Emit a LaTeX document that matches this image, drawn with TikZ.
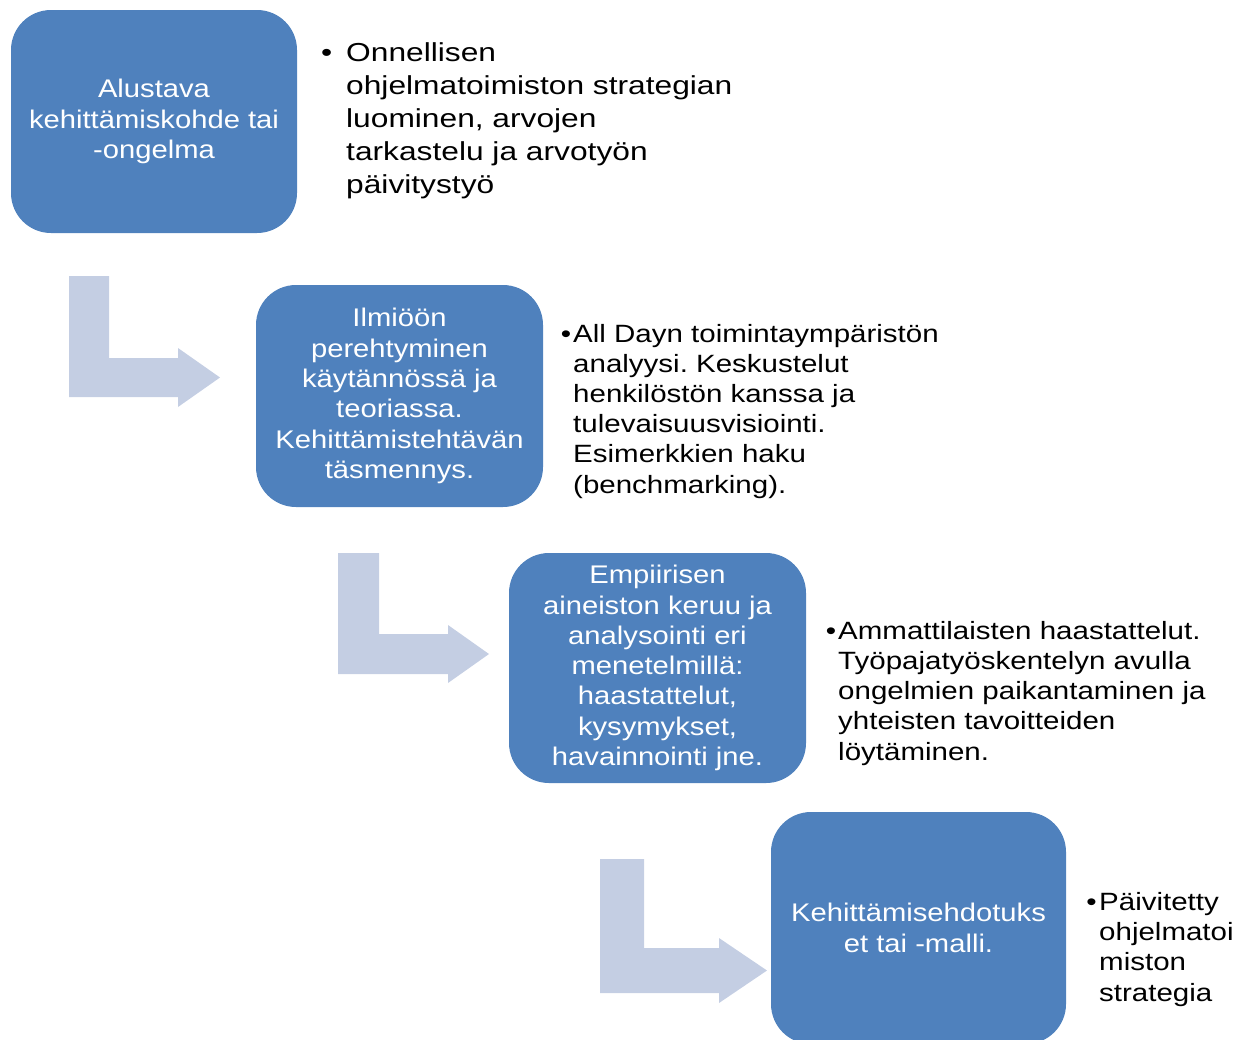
\documentclass[tikz,border=0pt]{standalone}
\usepackage{fontspec}
\setmainfont{Liberation Sans}
\newfontfamily\boxfont[FakeStretch=1.145]{Liberation Sans}
\newfontfamily\notefont[FakeStretch=1.18]{Liberation Sans}
\newfontfamily\leadfont[FakeStretch=1.22]{Liberation Sans}
\frenchspacing
\definecolor{stepblue}{HTML}{4F81BD}
\definecolor{bendblue}{HTML}{C4CEE3}
\tikzset{
  % a tall strut on the first line lowers the centred text a little
  stepbox/.style={fill=stepblue, draw=none, rounded corners=40pt, text=white,
    align=center, inner sep=0pt,
    font=\boxfont\fontsize{25.5pt}{30.3pt}\selectfont,
    execute at begin node={\rule{0pt}{22.8pt}}},
  % notes are placed by the baseline of their last line
  note/.style={anchor=base west, align=left, inner sep=0pt, text=black,
    font=\notefont\fontsize{25pt}{30.2pt}\selectfont},
  leadnote/.style={note, font=\leadfont\fontsize{26pt}{33pt}\selectfont},
  bentarrow/.style={fill=bendblue, draw=none}
}
\begin{document}
\begin{tikzpicture}[x=1pt, y=-1pt]
  \useasboundingbox (0,0) rectangle (1249,1039);
  \clip (0,0) rectangle (1249,1039);

  % process steps
  \node[stepbox, minimum width=286pt, minimum height=223pt] (s1) at (154,121.5)
    {Alustava\\kehittämiskohde tai\\-ongelma};
  \node[stepbox, minimum width=287pt, minimum height=222pt] (s2) at (399.5,396)
    {Ilmiöön\\perehtyminen\\käytännössä ja\\teoriassa.\\Kehittämistehtävän\\täsmennys.};
  \node[stepbox, minimum width=297pt, minimum height=230pt] (s3) at (657.5,668)
    {Empiirisen\\aineiston keruu ja\\analysointi eri\\menetelmillä:\\haastattelut,\\kysymykset,\\havainnointi jne.};
  \node[stepbox, minimum width=295pt, minimum height=232pt] (s4) at (918.5,928)
    {Kehittämisehdotuks\\et tai -malli.};

  % notes beside each step
  \node[leadnote] (n1) at (346,193)
    {\llap{•\hspace{14pt}}Onnellisen\\ohjelmatoimiston strategian\\luominen, arvojen\\tarkastelu ja arvotyön\\päivitystyö};
  \node[note] (n2) at (573,493)
    {\llap{•\hspace{2pt}}All Dayn toimintaympäristön\\analyysi. Keskustelut\\henkilöstön kanssa ja\\tulevaisuusvisiointi.\\Esimerkkien haku\\(benchmarking).};
  \node[note] (n3) at (838,760)
    {\llap{•\hspace{2pt}}Ammattilaisten haastattelut.\\Työpajatyöskentelyn avulla\\ongelmien paikantaminen ja\\yhteisten tavoitteiden\\löytäminen.};
  \node[note] (n4) at (1099,1001)
    {\llap{•\hspace{2.5pt}}Päivitetty\\ohjelmatoi\\miston\\strategia};

  % bent arrows leading from one step to the next
  \draw[bentarrow] (69,276) -- (109,276) -- (109,358) -- (178,358) -- (178,348)
    -- (220,377.5) -- (178,407) -- (178,397) -- (69,397) -- cycle;
  \draw[bentarrow] (338,553) -- (379,553) -- (379,634) -- (448,634) -- (448,625)
    -- (489,654) -- (448,683) -- (448,674) -- (338,674) -- cycle;
  \draw[bentarrow] (600,859) -- (644,859) -- (644,948) -- (719,948) -- (719,938)
    -- (767,970.5) -- (719,1003) -- (719,993) -- (600,993) -- cycle;
\end{tikzpicture}
\end{document}
